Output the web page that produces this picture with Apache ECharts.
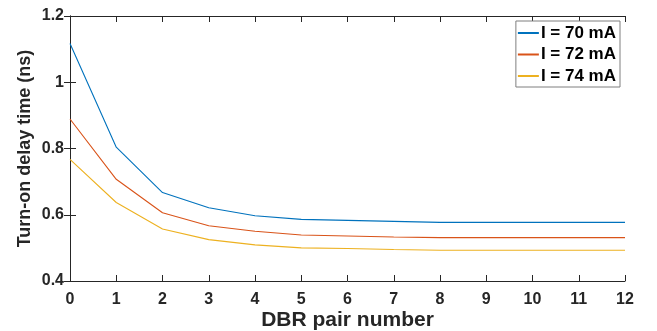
<!DOCTYPE html>
<html><head><meta charset="utf-8">
<script src="https://cdn.jsdelivr.net/npm/echarts@6/dist/echarts.min.js"></script>
<style>html,body{margin:0;padding:0;background:#fff}#c{width:657px;height:331px}</style>
</head><body><div id="c"></div>
<script>
const xCategories = [0,1,2,3,4,5,6,7,8,9,10,11,12];
const seriesNames = ['I = 70 mA','I = 72 mA','I = 74 mA'];
const i70 = [1.117,0.804,0.667,0.621,0.597,0.586,0.583,0.580,0.577,0.577,0.577,0.577,0.577];
const i72 = [0.889,0.707,0.606,0.567,0.550,0.539,0.536,0.533,0.531,0.531,0.531,0.531,0.531];
const i74 = [0.767,0.637,0.557,0.525,0.509,0.500,0.498,0.495,0.493,0.493,0.493,0.493,0.493];
const colors = ['#0072BD','#D95319','#EDB120'];
const font = 'Liberation Sans, Arial, sans-serif';
const chart = echarts.init(document.getElementById('c'));
const mk = (vals) => vals.map((v,i)=>[xCategories[i], v]);
const axisLine = {show:true, lineStyle:{color:'#262626', width:1}};
chart.setOption({
  animation:false,
  grid:{left:70, right:32, top:16, bottom:50, containLabel:false, outerBoundsMode:'none'},
  legend:{
    data:seriesNames, orient:'vertical', right:37, top:21,
    backgroundColor:'#fff', borderColor:'#7f7f7f', borderWidth:1, borderRadius:0,
    padding:[3,4,2,2], itemGap:3.5, itemWidth:21, itemHeight:2,
    textStyle:{fontFamily:font, fontWeight:'bold', fontSize:17, lineHeight:18, color:'#000', padding:[0,0,0,-3]},
    icon:'rect'
  },
  xAxis:[{
    type:'value', min:0, max:12, interval:1, position:'bottom',
    name:'DBR pair number', nameLocation:'middle', nameGap:29, nameMoveOverlap:false,
    nameTextStyle:{fontFamily:font, fontWeight:'bold', fontSize:21, color:'#262626'},
    axisLine, axisTick:{show:true, inside:true, length:6, lineStyle:{color:'#262626'}},
    axisLabel:{fontFamily:font, fontWeight:'bold', fontSize:16, color:'#262626', margin:11},
    splitLine:{show:false}
  },{
    type:'value', min:0, max:12, interval:1, position:'top',
    axisLine, axisTick:{show:true, inside:true, length:6, lineStyle:{color:'#262626'}},
    axisLabel:{show:false}, splitLine:{show:false}
  }],
  yAxis:[{
    type:'value', min:0.4, max:1.2, interval:0.2, position:'left',
    name:'Turn-on delay time (ns)', nameLocation:'middle', nameGap:36, nameMoveOverlap:false,
    nameTextStyle:{fontFamily:font, fontWeight:'bold', fontSize:18, color:'#262626'},
    axisLine, axisTick:{show:true, inside:true, length:6, lineStyle:{color:'#262626'}},
    axisLabel:{fontFamily:font, fontWeight:'bold', fontSize:16, color:'#262626', margin:6,
      formatter:(v)=>String(+v.toFixed(1))},
    splitLine:{show:false}
  },{
    type:'value', min:0.4, max:1.2, interval:0.2, position:'right',
    axisLine, axisTick:{show:true, inside:true, length:6, lineStyle:{color:'#262626'}},
    axisLabel:{show:false}, splitLine:{show:false}
  }],
  series:[i70,i72,i74].map((d,k)=>({
    name:seriesNames[k], type:'line', data:mk(d), showSymbol:false, symbol:'none',
    lineStyle:{color:colors[k], width:1.1}, itemStyle:{color:colors[k]}, smooth:false
  }))
});
</script></body></html>
